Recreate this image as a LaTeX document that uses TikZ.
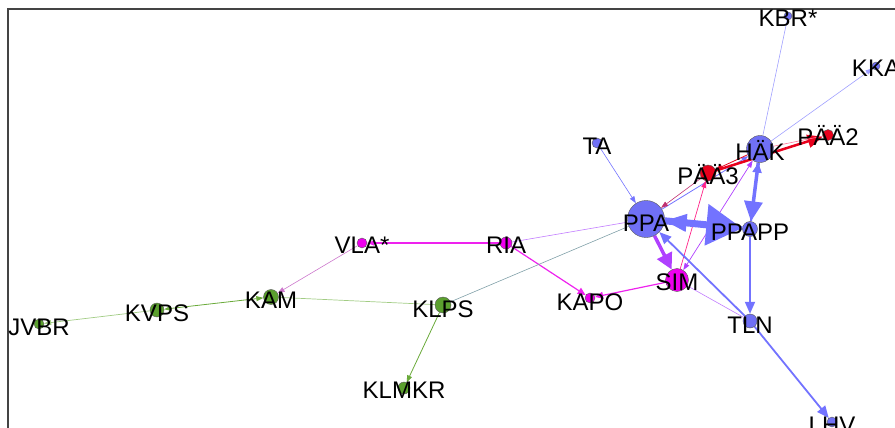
\documentclass[tikz,border=0pt]{standalone}
\usepackage{fontspec}
\setmainfont{Liberation Sans}
\usetikzlibrary{arrows.meta}
\pgfdeclarelayer{edges}
\pgfsetlayers{edges,main}

\definecolor{nblue}{HTML}{7070F5}
\definecolor{nred}{HTML}{E8001C}
\definecolor{nmag}{HTML}{EE00EE}
\definecolor{ngreen}{HTML}{5BA02E}
\definecolor{eblue}{HTML}{7373FF}
\definecolor{elblue}{HTML}{A0A0FF}
\definecolor{epurple}{HTML}{B040FF}
\definecolor{elpurple}{HTML}{C27CFF}
\definecolor{epink}{HTML}{FF2288}
\definecolor{elpink}{HTML}{FF7799}
\definecolor{ewine}{HTML}{C03070}
\definecolor{emag}{HTML}{EE22EE}
\definecolor{egreen}{HTML}{6AAA3A}
\definecolor{elgreen}{HTML}{A2CC84}
\definecolor{egrey}{HTML}{80A0A8}
\definecolor{eorchid}{HTML}{CC77CC}
\definecolor{frame}{HTML}{444444}

\begin{document}
\begin{tikzpicture}[x=1pt,y=-1pt,
  vtx/.style={circle,inner sep=0pt,draw=black!65,line width=0.4pt,minimum size=#1},
  bv/.style={vtx=#1,fill=nblue},
  rv/.style={vtx=#1,fill=nred},
  mv/.style={vtx=#1,fill=nmag},
  gv/.style={vtx=#1,fill=ngreen},
  lbl/.style={font=\fontsize{24}{24}\selectfont,inner sep=0pt,anchor=base,text=black},
  tip/.style={-{Triangle[length=7pt,width=5pt]}},
  tipboth/.style={{Triangle[length=7pt,width=5pt]}-{Triangle[length=7pt,width=5pt]}},
  mid/.style={-{Triangle[length=12pt,width=10pt]}},
]
\clip (0,0) rectangle (895,428);
\useasboundingbox (0,0) rectangle (895,428);

% plot frame
\draw[frame,line width=1.2pt] (8,430) -- (8,9) -- (897,9);

% vertices
\node[bv=8pt]  (kbr)   at (788,16)  {};
\node[bv=8pt]  (kka)   at (876,66)  {};
\node[bv=10pt] (ta)    at (597,143) {};
\node[bv=27pt] (hak)   at (760,149) {};
\node[rv=11pt] (paa2)  at (828,135) {};
\node[rv=16pt] (paa3)  at (708,173) {};
\node[bv=37pt] (ppa)   at (646,219) {};
\node[bv=15pt] (ppapp) at (750,229) {};
\node[mv=23pt] (sim)   at (677,280) {};
\node[bv=14pt] (tln)   at (750,321) {};
\node[bv=10pt] (lhv)   at (832,422) {};
\node[mv=10pt] (kapo)  at (590,298) {};
\node[mv=12pt] (ria)   at (506,243) {};
\node[mv=10pt] (vla)   at (362,243) {};
\node[gv=15pt] (kam)   at (271,297) {};
\node[gv=14pt] (kvps)  at (157,310) {};
\node[gv=10pt] (jvbr)  at (39,324)  {};
\node[gv=16pt] (klps)  at (443,305) {};
\node[gv=12pt] (klmkr) at (404,388) {};

% connectors
\begin{pgfonlayer}{edges}
\draw[elblue,line width=0.6pt] (hak) -- (kbr);
\draw[elblue,line width=0.6pt,tip] (hak) -- (kka);
\draw[eblue,line width=0.6pt,tip] (ta) -- (ppa);
\draw[eblue,line width=0.8pt,tip] (ppa) -- (hak);
\draw[ewine,line width=0.6pt,tip] (paa3) -- (ppa);
\draw[nred,line width=2.5pt,-{Triangle[length=15pt,width=13pt]}] (paa3) -- (paa2);
\draw[nred,line width=0.8pt,tip] (hak) -- (paa3);
\draw[elpink,line width=0.6pt] (paa2) -- (hak);
\draw[epink,line width=0.7pt,tip] (sim) -- (paa3);
\draw[epurple,line width=0.7pt,tipboth] (sim) -- (hak);
\draw[eblue,line width=7pt,-{Triangle[length=36pt,width=40pt]}] (ppa) -- (ppapp);
\draw[eblue,line width=4pt,-{Triangle[length=22pt,width=17pt]}] (ppapp) -- (ppa);
\draw[eblue,line width=3.5pt,-{Triangle[length=20pt,width=18pt]}] (hak) -- (ppapp);
\draw[eblue,line width=2pt,-{Triangle[length=10pt,width=9pt]}] (ppapp) -- (hak);
\draw[epurple,line width=3.5pt,-{Triangle[length=16pt,width=16pt]}] (ppa) -- (sim);
\draw[eblue,line width=1.8pt,mid] (ppapp) -- (tln);
\draw[eblue,line width=1.8pt,mid] (tln) -- (ppa);
\draw[eblue,line width=1.8pt,mid] (tln) -- (lhv);
\draw[elpurple,line width=0.6pt] (sim) -- (tln);
\draw[emag,line width=1.2pt,-{Triangle[length=8pt,width=7pt]}] (sim) -- (kapo);
\draw[emag,line width=1.2pt,-{Triangle[length=8pt,width=7pt]}] (ria) -- (kapo);
\draw[elpurple,line width=0.6pt] (ria) -- (ppa);
\draw[emag,line width=1.2pt,tip] (ria) -- (vla);
\draw[eorchid,line width=0.6pt,tip] (vla) -- (kam);
\draw[elgreen,line width=0.7pt] (kam) -- (klps);
\draw[egreen,line width=0.8pt,tipboth] (kam) -- (kvps);
\draw[elgreen,line width=0.7pt,tip] (kvps) -- (jvbr);
\draw[egrey,line width=0.6pt] (klps) -- (ppa);
\draw[egreen,line width=0.8pt,tip] (klps) -- (klmkr);
\end{pgfonlayer}

% vertex labels, baseline a little below each vertex centre
\node[lbl] (kbr-l)   at ([yshift=-11pt]kbr)   {KBR*};
\node[lbl] (kka-l)   at ([yshift=-11pt]kka)   {KKA};
\node[lbl] (ta-l)    at ([yshift=-11pt]ta)    {TA};
\node[lbl] (hak-l)   at ([yshift=-11pt]hak)   {HÄK};
\node[lbl] (paa2-l)  at ([yshift=-11pt]paa2)  {PÄÄ2};
\node[lbl] (paa3-l)  at ([yshift=-11pt]paa3)  {PÄÄ3};
\node[lbl] (ppa-l)   at ([yshift=-12pt]ppa)   {PPA};
\node[lbl] (ppapp-l) at ([yshift=-11pt]ppapp) {PPAPP};
\node[lbl] (sim-l)   at ([yshift=-10pt]sim)   {SIM};
\node[lbl] (tln-l)   at ([yshift=-12pt]tln)   {TLN};
\node[lbl] (lhv-l)   at ([yshift=-11pt]lhv)   {LHV};
\node[lbl] (kapo-l)  at ([yshift=-12pt]kapo)  {KAPO};
\node[lbl] (ria-l)   at ([yshift=-10pt]ria)   {RIA};
\node[lbl] (vla-l)   at ([yshift=-10pt]vla)   {VLA*};
\node[lbl] (kam-l)   at ([yshift=-11pt]kam)   {KAM};
\node[lbl] (kvps-l)  at ([yshift=-11pt]kvps)  {KVPS};
\node[lbl] (jvbr-l)  at ([yshift=-11pt]jvbr)  {JVBR};
\node[lbl] (klps-l)  at ([yshift=-12pt]klps)  {KLPS};
\node[lbl] (klmkr-l) at ([yshift=-10pt]klmkr) {KLMKR};
\end{tikzpicture}
\end{document}
